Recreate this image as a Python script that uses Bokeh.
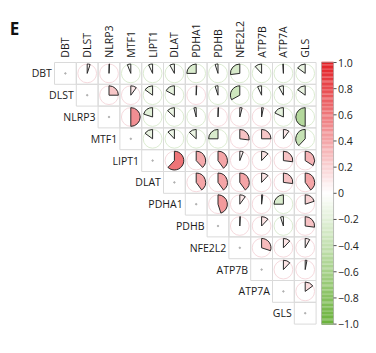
import numpy as np
from bokeh.plotting import figure
from bokeh.models import Range1d, Label
from bokeh.embed import file_html
from bokeh.resources import INLINE
from bokeh.core.properties import value

genes = ["DBT", "DLST", "NLRP3", "MTF1", "LIPT1", "DLAT", "PDHA1", "PDHB",
         "NFE2L2", "ATP7B", "ATP7A", "GLS"]

# upper triangle correlations, row i holds columns j > i
row_DBT    = [0.05, 0.01, -0.06, -0.07, -0.08, -0.25, -0.05, -0.27, -0.12, -0.01, -0.15]
row_DLST   = [0.25, 0.10, -0.15, -0.17, 0.01, -0.05, -0.33, -0.07, -0.08, -0.15]
row_NLRP3  = [0.50, -0.20, -0.13, -0.04, 0.01, 0.04, 0.03, -0.18, -0.50]
row_MTF1   = [-0.15, -0.12, -0.13, -0.25, 0.27, 0.25, 0.10, -0.38]
row_LIPT1  = [0.62, 0.38, 0.40, 0.06, 0.12, 0.27, 0.34]
row_DLAT   = [0.40, 0.40, 0.40, 0.12, 0.27, 0.40]
row_PDHA1  = [0.45, 0.10, 0.02, -0.25, 0.20]
row_PDHB   = [0.01, 0.12, -0.05, 0.27]
row_NFE2L2 = [0.30, 0.12, 0.08]
row_ATP7B  = [0.12, 0.03]
row_ATP7A  = [0.15]
upper_rows = [row_DBT, row_DLST, row_NLRP3, row_MTF1, row_LIPT1, row_DLAT,
              row_PDHA1, row_PDHB, row_NFE2L2, row_ATP7B, row_ATP7A]

cbar_ticks = [1.0, 0.8, 0.6, 0.4, 0.2, 0.0, -0.2, -0.4, -0.6, -0.8, -1.0]
cbar_labels = ["1.0", "0.8", "0.6", "0.4", "0.2", "0", "\u22120.2", "\u22120.4",
               "\u22120.6", "\u22120.8", "\u22121.0"]

RED = np.array([227, 30, 36])
GREEN = np.array([106, 178, 58])
WHITE = np.array([255, 255, 255])

def cmap(v):
    if v >= 0:
        c = WHITE + (RED - WHITE) * v
    else:
        c = WHITE + (GREEN - WHITE) * (-v)
    c = np.clip(np.round(c), 0, 255).astype(int)
    return "#%02x%02x%02x" % tuple(c)

def faint(v):
    return "#f6dade" if v >= 0 else "#dcecd2"

n = len(genes)
cell_px = 21.8
left_px, top_px = 54.0, 62.0
W, H = 376, 353

p = figure(width=W, height=H, output_backend="svg", toolbar_location=None,
           min_border=0, outline_line_color=None,
           x_range=Range1d(-left_px / cell_px, (W - left_px) / cell_px),
           y_range=Range1d((H - top_px) / cell_px, -top_px / cell_px))
p.axis.visible = False
p.grid.visible = False
p.background_fill_color = "white"
p.border_fill_color = "white"

# grid cells (upper triangle incl. diagonal)
gx, gy = [], []
for i in range(n):
    for j in range(i, n):
        gx.append(j + 0.5)
        gy.append(i + 0.5)
p.rect(gx, gy, width=1, height=1, fill_color=None, line_color="#dadada", line_width=1)

# off-diagonal pies
cx, cy, vals = [], [], []
for i, row in enumerate(upper_rows):
    for k, v in enumerate(row):
        j = i + 1 + k
        cx.append(j + 0.5)
        cy.append(i + 0.5)
        vals.append(v)
vals = np.array(vals)
R = 0.43
p.circle(cx, cy, radius=R, fill_color=None, line_color=[faint(v) for v in vals], line_width=1)

start = np.pi / 2 - np.clip(vals, 0, None) * 2 * np.pi
end = np.pi / 2 + np.clip(-vals, 0, None) * 2 * np.pi
p.wedge(cx, cy, radius=R, start_angle=start, end_angle=end, direction="anticlock",
        fill_color=[cmap(v) for v in vals], line_color="#2a2a2a", line_width=1)

# diagonal dots
p.scatter([i + 0.5 for i in range(n)], [i + 0.5 for i in range(n)], size=1.5,
          color="#b0b0b0")

# labels
p.text([j + 0.5 for j in range(n)], [-0.22] * n, text=genes, angle=np.pi / 2,
       text_align="left", text_baseline="middle", text_font=value("Open Sans"),
       text_font_size="10.5px", text_color="#1a1a1a")
p.text([i - 0.12 for i in range(n)], [i + 0.5 for i in range(n)], text=genes,
       text_align="right", text_baseline="middle", text_font=value("Open Sans"),
       text_font_size="10.5px", text_color="#1a1a1a")

# colorbar
cb_x0, cb_x1 = 12.25, 12.8
steps = np.linspace(1, -1, 201)
seg_h = 12 / 200
p.rect([(cb_x0 + cb_x1) / 2] * len(steps), (1 - steps) / 2 * n, width=cb_x1 - cb_x0,
       height=seg_h * 1.05, fill_color=[cmap(v) for v in steps], line_color=None)
p.rect([(cb_x0 + cb_x1) / 2], [n / 2], width=cb_x1 - cb_x0, height=n,
       fill_color=None, line_color="#9a9a9a", line_width=0.6)
ty = (1 - np.array(cbar_ticks)) / 2 * n
p.segment([cb_x1] * len(ty), ty, [cb_x1 + 0.14] * len(ty), ty, line_color="#555555",
          line_width=1)
p.text([cb_x1 + 0.2] * len(ty), ty, text=cbar_labels, text_align="left",
       text_baseline="middle", text_font=value("Open Sans"), text_font_size="10.5px",
       text_color="#222222")

p.add_layout(Label(x=-2.05, y=-1.55, text="E", text_font="Open Sans",
                   text_font_size="17px", text_font_style="bold",
                   text_baseline="middle", text_align="left", text_color="#111111"))

open("out.html", "w").write(file_html(p, INLINE))
